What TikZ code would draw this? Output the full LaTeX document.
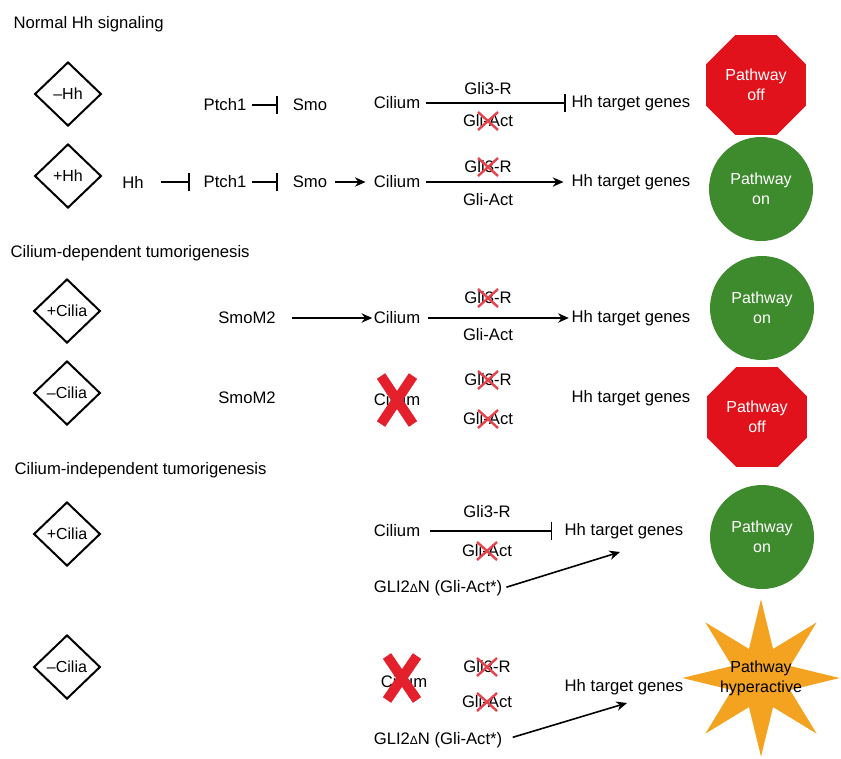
\documentclass[tikz,border=0pt]{standalone}
\usepackage{fontspec}
\setmainfont{Liberation Sans}
\usetikzlibrary{arrows.meta}
\usetikzlibrary{calc}
\usetikzlibrary{shapes}

\definecolor{offred}{RGB}{226,18,28}
\definecolor{ongreen}{RGB}{62,139,46}
\definecolor{hyperorange}{RGB}{243,163,32}
\definecolor{xred}{RGB}{228,32,44}

% red cross over a crossed out label
\newcommand{\nix}[1]{\draw[nixline] ($(#1)+(-10,-9)$) -- ($(#1)+(10,9)$) ($(#1)+(-10,9)$) -- ($(#1)+(10,-9)$);}

\begin{document}
\begin{tikzpicture}[x=0.75pt, y=-0.75pt,
  lbl/.style={inner sep=1pt, font=\fontsize{12.5}{15}\selectfont},
  head/.style={lbl, anchor=west},
  cond/.style={diamond, draw, line width=1.5pt, inner sep=0pt, minimum width=50pt, minimum height=48pt, font=\fontsize{12}{14}\selectfont},
  act/.style={-{Stealth[length=8pt,width=7pt]}, line width=1.2pt},
  inh/.style={-{Bar[width=14pt,line width=1.4pt]}, line width=1.2pt},
  nixline/.style={xred!85, line width=1.8pt},
  bigx/.style={xred, line width=7.5pt},
  sign/.style={inner sep=0pt, align=center, font=\fontsize{12}{15}\selectfont},
  offsign/.style={sign, regular polygon, regular polygon sides=8, fill=offred, minimum size=81pt, text=white},
  onsign/.style={sign, circle, fill=ongreen, minimum size=78pt, text=white},
  hypersign/.style={star, star points=8, star point ratio=2.5, fill=hyperorange, minimum size=118pt, inner sep=0pt}]
\useasboundingbox (0,0) rectangle (841,758);
% headings
\node[head] (t1) at (12,24) {Normal Hh signaling};
\node[head] (t2) at (9,253) {Cilium-dependent tumorigenesis};
\node[head] (t3) at (13,470) {Cilium-independent tumorigenesis};
% conditions
\node[cond] (d1) at (68,94) {--Hh};
\node[cond] (d2) at (68,176) {+Hh};
\node[cond] (d3) at (67,311) {+Cilia};
\node[cond] (d4) at (67,393) {--Cilia};
\node[cond] (d5) at (67,534) {+Cilia};
\node[cond] (d6) at (67,667) {--Cilia};

% -Hh
\node[lbl] (p1) at (225,105) {Ptch1};
\node[lbl] (s1) at (310,105) {Smo};
\node[lbl] (c1) at (397,103) {Cilium};
\node[lbl] (h1) at (631,103) {Hh target genes};
\node[lbl] (r1) at (488,89) {Gli3-R};
\node[lbl] (a1) at (488,121) {Gli-Act};
\nix{a1}
\node[offsign] (o1) at (756,85) {Pathway\\off};
\draw[inh, shorten <=3pt, shorten >=10pt] (p1) -- (s1);
\draw[inh, shorten <=3pt, shorten >=3pt] (c1) -- (h1);

% +Hh
\node[lbl] (hh2) at (133,182) {Hh};
\node[lbl] (p2) at (225,182) {Ptch1};
\node[lbl] (s2) at (310,182) {Smo};
\node[lbl] (c2) at (397,182) {Cilium};
\node[lbl] (h2) at (631,182) {Hh target genes};
\node[lbl] (r2) at (488,167) {Gli3-R};
\nix{r2}
\node[lbl] (a2) at (488,200) {Gli-Act};
\node[onsign] (n2) at (761,189) {Pathway\\on};
\draw[inh, shorten <=12pt, shorten >=9pt] (hh2) -- (p2);
\draw[inh, shorten <=3pt, shorten >=10pt] (p2) -- (s2);
\draw[act, shorten <=5pt, shorten >=5pt] (s2) -- (c2);
\draw[act, shorten <=3pt, shorten >=5pt] (c2) -- (h2);

% SmoM2, +Cilia
\node[lbl] (sm3) at (247,318) {SmoM2};
\node[lbl] (c3) at (397,318) {Cilium};
\node[lbl] (h3) at (631,318) {Hh target genes};
\node[lbl] (r3) at (488,298) {Gli3-R};
\nix{r3}
\node[lbl] (a3) at (488,335) {Gli-Act};
\node[onsign] (n3) at (762,308) {Pathway\\on};
\draw[act, shorten <=11pt] (sm3) -- (c3);
\draw[act, shorten <=5pt, shorten >=1pt] (c3) -- (h3);

% SmoM2, -Cilia
\node[lbl] (sm4) at (247,398) {SmoM2};
\node[lbl] (c4) at (397,400) {Cilium};
\draw[bigx] ($(c4)+(-16,-24)$) -- ($(c4)+(16,24)$) ($(c4)+(-16,24)$) -- ($(c4)+(16,-24)$);
\node[lbl] (r4) at (488,380) {Gli3-R};
\nix{r4}
\node[lbl] (a4) at (488,419) {Gli-Act};
\nix{a4}
\node[lbl] (h4) at (631,398) {Hh target genes};
\node[offsign] (o4) at (757,417) {Pathway\\off};

% GLI2dN, +Cilia
\node[lbl] (c5) at (397,531) {Cilium};
\node[lbl] (h5) at (624,531) {Hh target genes};
\node[lbl] (r5) at (487,512) {Gli3-R};
\node[lbl] (a5) at (487,551) {Gli-Act};
\nix{a5}
\node[lbl] (g5) at (438,588) {GLI2{\small Δ}N (Gli-Act*)};
\coordinate (e5) at (620,552);
\node[onsign] (n5) at (762,537) {Pathway\\on};
\draw[inh, shorten <=6pt, shorten >=8pt] (c5) -- (h5);
\draw[act, shorten <=2pt] (g5.east) -- (e5);

% GLI2dN, -Cilia
\node[lbl] (c6) at (404,682) {Cilium};
\coordinate (x6) at (402,678);
\draw[bigx] ($(x6)+(-15,-22)$) -- ($(x6)+(15,22)$) ($(x6)+(-15,22)$) -- ($(x6)+(15,-22)$);
\node[lbl] (r6) at (487,667) {Gli3-R};
\nix{r6}
\node[lbl] (a6) at (487,702) {Gli-Act};
\nix{a6}
\node[lbl] (h6) at (624,687) {Hh target genes};
\node[lbl] (g6) at (438,740) {GLI2{\small Δ}N (Gli-Act*)};
\coordinate (e6) at (627,703);
\node[hypersign, label={[sign]center:Pathway\\hyperactive}] (st6) at (761,678) {};
\draw[act, shorten <=7pt] (g6.east) -- (e6);
\end{tikzpicture}
\end{document}
